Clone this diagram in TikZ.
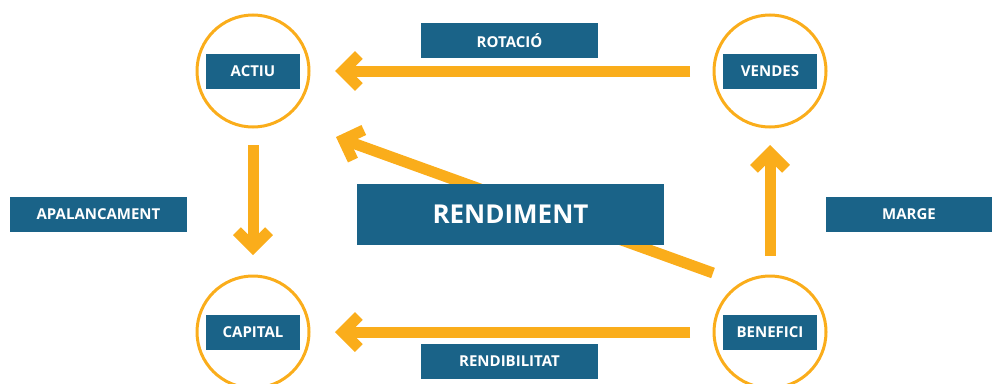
\documentclass[tikz,border=0pt]{standalone}
\usepackage{fontspec}
\setmainfont{Open Sans}
\usetikzlibrary{arrows.meta}
\definecolor{ringorange}{HTML}{FAAD1B}
\definecolor{tagblue}{HTML}{1A6388}
\tikzset{
  ring/.style={circle, draw=ringorange, line width=3pt, minimum size=112pt, inner sep=0pt, outer sep=0pt},
  tag/.style={fill=tagblue, text=white, font=\fontsize{15}{15}\selectfont\bfseries, minimum width=94pt, minimum height=35pt, inner sep=0pt},
  widetag/.style={tag, minimum width=177pt},
  flow/.style={draw=ringorange, line width=11pt, -{Straight Barb[length=16pt,width=32pt,sharp]}},
}
\begin{document}
\begin{tikzpicture}[x=1pt, y=-1pt]
  \useasboundingbox (0,0) rectangle (992,383);
  %% the four rings, with their tags inside
  \node[ring] (actiu) at (253,71) {};
  \node[ring] (vendes) at (770,71) {};
  \node[ring] (capital) at (253,332) {};
  \node[ring] (benefici) at (770,332) {};
  \node[tag] (actiu-t) at (actiu) {ACTIU};
  \node[tag] (vendes-t) at (vendes) {VENDES};
  \node[tag] (capital-t) at (capital) {CAPITAL};
  \node[tag] (benefici-t) at (benefici) {BENEFICI};
  %% arrows between the rings
  \draw[flow, shorten <=24pt, shorten >=26pt] (vendes.west) -- (actiu.east);
  \draw[flow, shorten <=24pt, shorten >=26pt] (benefici.west) -- (capital.east);
  \draw[flow, shorten <=18pt, shorten >=21pt] (actiu.south) -- (capital.north);
  \draw[flow, shorten <=20pt, shorten >=18pt] (benefici.north) -- (vendes.south);
  %% the slanted one goes behind the big box
  \coordinate (slant-tail) at (713,273);
  \coordinate (slant-head) at (336,137);
  \draw[flow] (slant-tail) -- (slant-head);
  \node[tag, minimum width=307pt, minimum height=61pt, font=\fontsize{26}{26}\selectfont\bfseries] (rendiment) at (510.5,214.5) {RENDIMENT};
  %% labels of the arrows
  \node[widetag] (rotacio) at (509.5,40.5) {ROTACIÓ};
  \node[widetag] (rendibilitat) at (509.5,361) {RENDIBILITAT};
  \node[widetag] (apalancament) at (98.5,214.5) {APALANCAMENT};
  \node[tag, minimum width=166pt] (marge) at (909,214.5) {MARGE};
\end{tikzpicture}
\end{document}
